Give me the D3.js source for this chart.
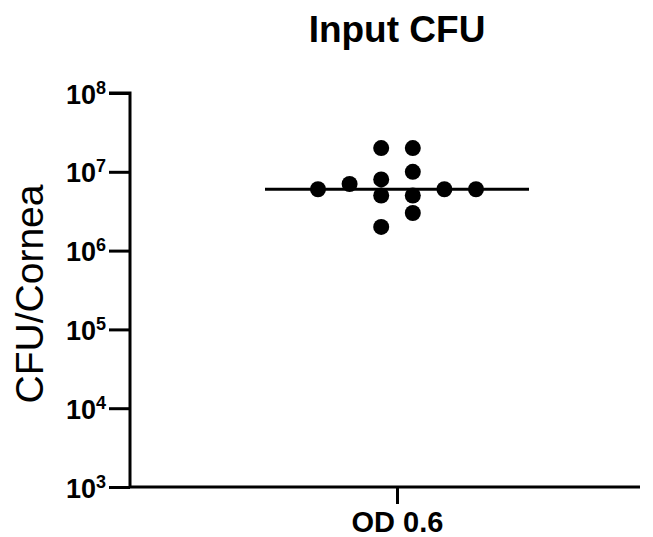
<!DOCTYPE html>
<html>
<head>
<meta charset="utf-8">
<script src="https://cdn.jsdelivr.net/npm/d3@7"></script>
<style>
  body { margin: 0; background: #fff; }
  text { font-family: 'Liberation Sans', Arial, sans-serif; }
</style>
</head>
<body>
<div id="chart"></div>
<script>
// data
let groups = ['OD 0.6']
let cfu = [6e6, 7e6, 2e7, 8e6, 5e6, 2e6, 2e7, 1e7, 5e6, 3e6, 6e6, 6e6]
let slot = [-2.5, -1.5, -0.5, -0.5, -0.5, -0.5, 0.5, 0.5, 0.5, 0.5, 1.5, 2.5]
let median = 6e6
let yTicks = [3, 4, 5, 6, 7, 8]

let margin = { top: 93, left: 130, right: 13, bottom: 50 }
let width = 653 - margin.left - margin.right
let height = 537 - margin.top - margin.bottom
let groupCenter = 267

let svg = d3
  .select('#chart')
  .append('svg')
  .attr('width', 653)
  .attr('height', 537)

let g = svg
  .append('g')
  .attr('transform', 'translate(' + margin.left + ',' + margin.top + ')')

let x = d3.scalePoint().domain(groups).range([0, groupCenter * 2]).padding(0.5)
let y = d3.scaleLog().domain([1e3, 1e8]).range([height, 0])
let slotScale = d3.scaleLinear().domain([-1, 1]).range([-31.6, 31.6])

// axes
let yAxis = g.append('g')
  .call(d3.axisLeft(y).tickValues(yTicks.map(d => Math.pow(10, d))).tickSize(21).tickFormat(''))
yAxis.select('.domain').attr('stroke-width', 3).attr('d', 'M-21,0H0V' + height)
yAxis.selectAll('.tick line').attr('stroke-width', 3)

yAxis.selectAll('.tick')
  .append('text')
  .attr('x', -24)
  .attr('y', 10)
  .attr('text-anchor', 'end')
  .attr('fill', '#000')
  .attr('font-weight', 'bold')
  .attr('font-size', 27)
  .each(function(d) {
    let t = d3.select(this)
    t.append('tspan').text('10')
    t.append('tspan').attr('dy', -10).attr('font-size', 18).text(Math.round(Math.log10(d)))
  })

let xAxis = g.append('g')
  .attr('transform', 'translate(0,' + height + ')')
  .call(d3.axisBottom(x).tickSize(17).tickSizeOuter(0))
xAxis.select('.domain').attr('stroke-width', 3).attr('d', 'M0,0H' + width)
xAxis.selectAll('.tick line').attr('stroke-width', 3)
xAxis.selectAll('.tick text')
  .attr('dy', 0)
  .attr('y', 45)
  .attr('fill', '#000')
  .attr('font-weight', 'bold')
  .attr('font-size', 29)
  .attr('font-family', "'Liberation Sans', Arial, sans-serif")

// median line
g.append('line')
  .attr('x1', x(groups[0]) - 132)
  .attr('x2', x(groups[0]) + 132)
  .attr('y1', y(median))
  .attr('y2', y(median))
  .attr('stroke', '#000')
  .attr('stroke-width', 3)

// points
g.selectAll('.dot')
  .data(cfu)
  .enter()
  .append('circle')
  .attr('class', 'dot')
  .attr('cx', (d, i) => x(groups[0]) + slotScale(slot[i]))
  .attr('cy', d => y(d))
  .attr('r', 8)
  .attr('fill', '#000')

// title
svg.append('text')
  .attr('x', margin.left + x(groups[0]))
  .attr('y', 42)
  .attr('text-anchor', 'middle')
  .attr('font-weight', 'bold')
  .attr('font-size', 37)
  .text('Input CFU')

// y label
svg.append('text')
  .attr('transform', 'translate(43,' + 294 + ') rotate(-90)')
  .attr('text-anchor', 'middle')
  .attr('font-size', 39)
  .text('CFU/Cornea')
</script>
</body>
</html>
